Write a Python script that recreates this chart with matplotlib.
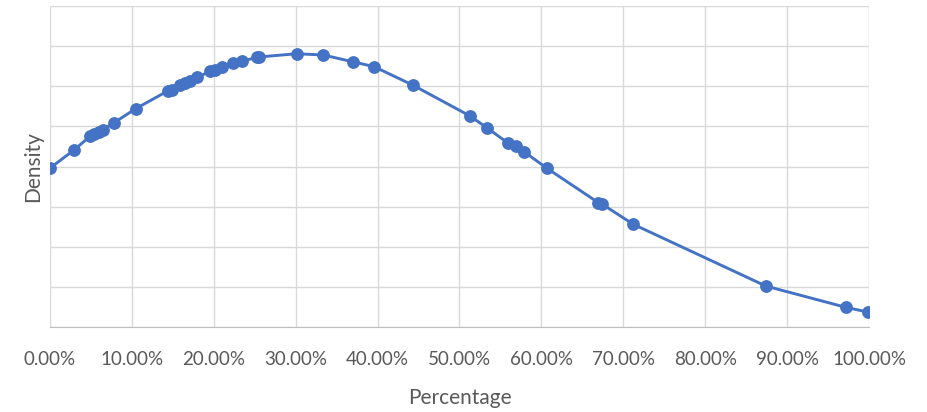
import matplotlib
matplotlib.use('Agg')
import matplotlib.pyplot as plt
from matplotlib.ticker import FuncFormatter

# percentage (x) and density (y)
pct = [0.00, 2.93, 4.88, 5.41, 6.02, 6.43, 7.81, 10.46, 14.44, 14.90,
       15.87, 16.48, 17.09, 17.91, 19.54, 20.15, 20.96, 22.38, 23.41, 25.24,
       25.50, 30.12, 33.37, 36.96, 39.56, 44.29, 51.28, 53.32, 55.96, 56.90,
       57.88, 60.65, 66.95, 67.36, 71.22, 87.42, 97.19, 99.91]
density = [0.396, 0.441, 0.475, 0.481, 0.487, 0.491, 0.509, 0.544, 0.589, 0.591,
           0.603, 0.609, 0.614, 0.622, 0.637, 0.641, 0.649, 0.658, 0.662, 0.672,
           0.673, 0.681, 0.678, 0.661, 0.649, 0.603, 0.526, 0.497, 0.458, 0.450,
           0.437, 0.396, 0.310, 0.307, 0.256, 0.102, 0.049, 0.037]

grey = '#595959'
plt.rcParams['font.family'] = ['Lato', 'DejaVu Sans']

fig = plt.figure(figsize=(9.27, 4.12), dpi=100)
ax = fig.add_axes([0.0539, 0.2063, 0.8835, 0.7791])

ax.plot(pct, density, '-o', color='#4472C4', lw=2.1, ms=8.2, zorder=3)

ax.set_xlim(0, 100)
ax.set_ylim(0, 0.8)
ax.set_xticks(range(0, 101, 10))
ax.set_yticks([i / 10 for i in range(9)])
ax.xaxis.set_major_formatter(FuncFormatter(lambda v, p: '%.2f%%' % v))
ax.set_yticklabels([])
ax.tick_params(length=0, labelsize=13.5, colors=grey, pad=17.5)
ax.grid(True, color='#D9D9D9', lw=1)
ax.set_axisbelow(True)
for s in ['top', 'right', 'left']:
    ax.spines[s].set_visible(False)
ax.spines['bottom'].set_color('#BFBFBF')

ax.set_xlabel('Percentage', fontsize=15, color=grey, labelpad=14.5)
ax.set_ylabel('Density', fontsize=15, color=grey, labelpad=-12.5)

fig.savefig('out.png', dpi=100)
